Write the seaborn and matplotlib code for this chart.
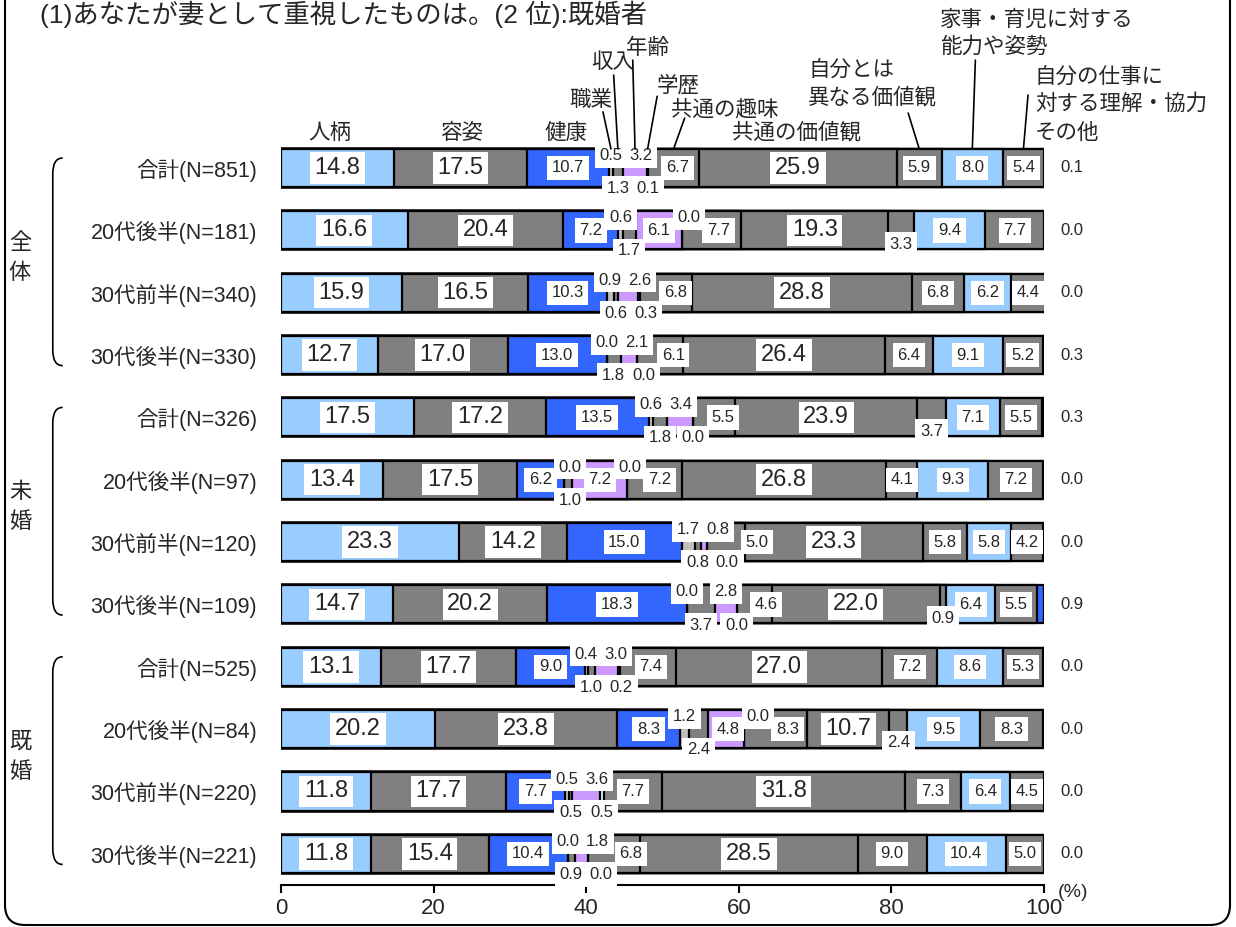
import numpy as np
import pandas as pd
import matplotlib
matplotlib.use('Agg')
import matplotlib.pyplot as plt
import seaborn as sns
from matplotlib.path import Path
from matplotlib.patches import PathPatch, FancyBboxPatch

# ---------------- data ----------------
categories = ['人柄', '容姿', '健康', '職業', '収入', '年齢', '学歴', '共通の趣味',
              '共通の価値観', '自分とは異なる価値観', '家事・育児に対する能力や姿勢',
              '自分の仕事に対する理解・協力', 'その他']
row_labels = ['合計(N=851)', '20代後半(N=181)', '30代前半(N=340)', '30代後半(N=330)',
              '合計(N=326)', '20代後半(N=97)', '30代前半(N=120)', '30代後半(N=109)',
              '合計(N=525)', '20代後半(N=84)', '30代前半(N=220)', '30代後半(N=221)']
groups = ['全体', '未婚', '既婚']
group_rows = [(0, 3), (4, 7), (8, 11)]

zentai_total = [14.8, 17.5, 10.7, 0.5, 1.3, 3.2, 0.1, 6.7, 25.9, 5.9, 8.0, 5.4, 0.1]
zentai_20s_late = [16.6, 20.4, 7.2, 0.6, 1.7, 6.1, 0.0, 7.7, 19.3, 3.3, 9.4, 7.7, 0.0]
zentai_30s_early = [15.9, 16.5, 10.3, 0.9, 0.6, 2.6, 0.3, 6.8, 28.8, 6.8, 6.2, 4.4, 0.0]
zentai_30s_late = [12.7, 17.0, 13.0, 0.0, 1.8, 2.1, 0.0, 6.1, 26.4, 6.4, 9.1, 5.2, 0.3]
mikon_total = [17.5, 17.2, 13.5, 0.6, 1.8, 3.4, 0.0, 5.5, 23.9, 3.7, 7.1, 5.5, 0.3]
mikon_20s_late = [13.4, 17.5, 6.2, 0.0, 1.0, 7.2, 0.0, 7.2, 26.8, 4.1, 9.3, 7.2, 0.0]
mikon_30s_early = [23.3, 14.2, 15.0, 1.7, 0.8, 0.8, 0.0, 5.0, 23.3, 5.8, 5.8, 4.2, 0.0]
mikon_30s_late = [14.7, 20.2, 18.3, 0.0, 3.7, 2.8, 0.0, 4.6, 22.0, 0.9, 6.4, 5.5, 0.9]
kikon_total = [13.1, 17.7, 9.0, 0.4, 1.0, 3.0, 0.2, 7.4, 27.0, 7.2, 8.6, 5.3, 0.0]
kikon_20s_late = [20.2, 23.8, 8.3, 1.2, 2.4, 4.8, 0.0, 8.3, 10.7, 2.4, 9.5, 8.3, 0.0]
kikon_30s_early = [11.8, 17.7, 7.7, 0.5, 0.5, 3.6, 0.5, 7.7, 31.8, 7.3, 6.4, 4.5, 0.0]
kikon_30s_late = [11.8, 15.4, 10.4, 0.0, 0.9, 1.8, 0.0, 6.8, 28.5, 9.0, 10.4, 5.0, 0.0]

values = [zentai_total, zentai_20s_late, zentai_30s_early, zentai_30s_late,
          mikon_total, mikon_20s_late, mikon_30s_early, mikon_30s_late,
          kikon_total, kikon_20s_late, kikon_30s_early, kikon_30s_late]

title = '(1)あなたが妻として重視したものは。(2 位):既婚者'

# ---------------- style ----------------
colors = ['#99CCFF', '#808080', '#3366FF', '#C0C0C0', '#808080', '#CC99FF', '#CCFFFF',
          '#808080', '#808080', '#808080', '#99CCFF', '#808080', '#3366FF']

sns.set_theme(style='white')
plt.rcParams['font.family'] = ['Liberation Sans', 'Noto Sans CJK JP', 'DejaVu Sans']
plt.rcParams['axes.unicode_minus'] = False

fig = plt.figure(figsize=(12.36, 9.27), dpi=100)
ax = fig.add_axes([0.2273, 0.0453, 0.6174, 0.8071])

bar_h = 0.61
df = pd.DataFrame(values, columns=categories)
df['row'] = row_labels
cum = df[categories].cumsum(axis=1)
for k in range(len(categories) - 1, -1, -1):
    sns.barplot(x=cum[categories[k]].values, y=df['row'], orient='h', order=row_labels,
                color=colors[k], saturation=1, width=bar_h, edgecolor='black',
                linewidth=1.6, errorbar=None, ax=ax)

ax.set_xlim(0, 100)
ax.set_ylim(11.5, -0.5)
ax.set_xlabel('')
ax.set_ylabel('')
for s in ['top', 'left', 'right']:
    ax.spines[s].set_visible(False)
ax.spines['bottom'].set_color('black')
ax.spines['bottom'].set_linewidth(1.5)
ax.set_xticks([0, 20, 40, 60, 80, 100])
ax.tick_params(axis='x', direction='out', length=6, width=1.5, color='black',
               labelsize=16, pad=3, bottom=True)
ax.tick_params(axis='y', length=0, labelsize=15.5, pad=17)
ax.grid(False)
ax.text(103.8, 11.62, '(%)', ha='center', va='center', fontsize=14, clip_on=False)

# ---------------- value labels ----------------
big = {0, 1, 8}
tiny_cats = {3, 4, 5, 6}
box_big = dict(boxstyle='square,pad=0.2', fc='white', ec='none')
box_small = dict(boxstyle='square,pad=0.28', fc='white', ec='none')
for i, row in enumerate(values):
    vals = np.array(row, dtype=float)
    lefts = np.concatenate([[0.0], np.cumsum(vals)[:-1]])
    centers = lefts + vals / 2
    flip = 0
    last = {'top': -99.0, 'bot': -99.0}
    for k, v in enumerate(vals):
        txt = f'{v:.1f}'
        if k == len(vals) - 1:
            ax.text(103.6, i, txt, ha='center', va='center', fontsize=12, clip_on=False)
            continue
        if k in big:
            ax.text(centers[k], i, txt, ha='center', va='center', fontsize=17,
                    bbox=box_big, zorder=5)
            continue
        x, y = centers[k], i
        if v < 4 and k in tiny_cats:
            side = 'top' if flip % 2 == 0 else 'bot'
            flip += 1
            x = max(x, last[side] + 3.9)
            last[side] = x
            y = i - 0.2 if side == 'top' else i + 0.33
        elif v < 4:
            y = i + 0.22
        elif k in tiny_cats or k == 2:
            x = max(x, last['top'] + 3.9, last['bot'] + 3.9)
            last['top'] = last['bot'] = x
        elif k == 7:
            x = max(x, last['top'] + 3.9, last['bot'] + 3.9)
        ax.text(x, y, txt, ha='center', va='center', fontsize=12, bbox=box_small, zorder=5)

# ---------------- header labels with leader lines ----------------
top_edge = -bar_h / 2
row0 = np.array(values[0], dtype=float)
c0 = np.concatenate([[0.0], np.cumsum(row0)[:-1]]) + row0 / 2
header = [
    # (text, x, y, ha, line start or None, category index)
    ('人柄', 6.4, -0.56, 'center', None, 0),
    ('容姿', 23.6, -0.56, 'center', None, 1),
    ('健康', 37.4, -0.56, 'center', None, 2),
    ('職業', 40.6, -1.09, 'center', (42.2, -0.90), 3),
    ('収入', 43.5, -1.70, 'center', (43.6, -1.49), 4),
    ('年齢', 48.1, -1.92, 'center', (46.1, -1.73), 5),
    ('学歴', 52.0, -1.32, 'center', (49.3, -1.15), 6),
    ('共通の趣味', 58.2, -0.93, 'center', (52.9, -0.80), 7),
    ('共通の価値観', 67.5, -0.56, 'center', None, 8),
    ('自分とは\n異なる価値観', 69.1, -1.33, 'left', (82.2, -0.88), 9),
    ('家事・育児に対する\n能力や姿勢', 86.4, -2.15, 'left', (91.0, -1.73), 10),
    ('自分の仕事に\n対する理解・協力', 98.8, -1.23, 'left', (97.9, -1.17), 11),
    ('その他', 98.8, -0.55, 'left', None, 12),
]
for txt, x, y, ha, start, k in header:
    ax.text(x, y, txt, ha=ha, va='center', fontsize=15.5, linespacing=1.35,
            multialignment='left', clip_on=False)
    if start is not None:
        ax.plot([start[0], c0[k]], [start[1], top_edge], color='black', lw=1.2,
                clip_on=False, zorder=6)

# ---------------- group brackets ----------------
for g, (s, e) in enumerate(group_rows):
    ytop, ybot = s - 0.16, e + 0.17
    xin, xout, c = -28.6, -29.9, 0.25
    verts = [(xin, ytop), (xout, ytop), (xout, ytop + c), (xout, ybot - c),
             (xout, ybot), (xin, ybot)]
    codes = [Path.MOVETO, Path.CURVE3, Path.CURVE3, Path.LINETO, Path.CURVE3, Path.CURVE3]
    ax.add_patch(PathPatch(Path(verts, codes), fill=False, lw=1.2, ec='black', clip_on=False))
    ax.text(-34.2, (s + e) / 2 - 0.05, '\n'.join(groups[g]), ha='center', va='center',
            fontsize=16, linespacing=1.55, clip_on=False)

# ---------------- title and frame ----------------
fig.text(40 / 1236, 1 - 1 / 927, title, ha='left', va='top', fontsize=19)
frame = FancyBboxPatch((0.05, 0.02), 12.25, 10.0, boxstyle='round,pad=0,rounding_size=0.2',
                       transform=fig.dpi_scale_trans, fill=False, ec='black', lw=1.5)
fig.add_artist(frame)

fig.savefig('out.png', dpi=100)
